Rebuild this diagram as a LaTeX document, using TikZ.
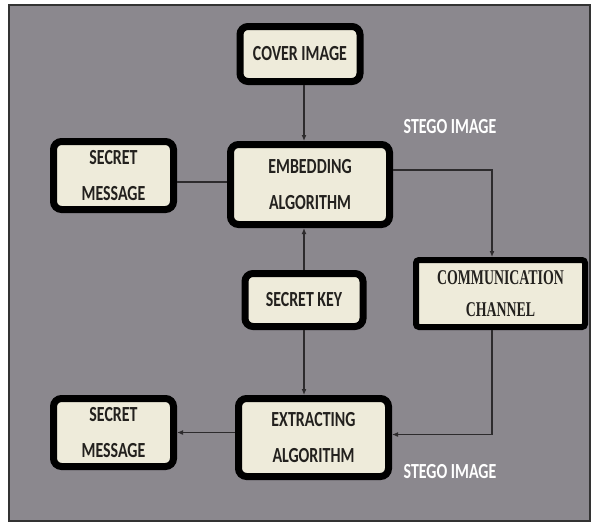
\documentclass[tikz,border=0pt]{standalone}
\usepackage{fontspec}
\usetikzlibrary{arrows.meta,calc}
\newfontfamily\boxfont[FakeStretch=0.74]{Carlito}
\newfontfamily\commfont[FakeStretch=0.66]{Liberation Serif}
\definecolor{bggray}{RGB}{139,136,142}
\definecolor{boxfill}{RGB}{238,235,218}
\definecolor{txtdark}{RGB}{35,33,30}
\definecolor{linedark}{RGB}{45,43,45}
\tikzset{
  blk/.style={draw=black, line width=7pt, rounded corners=8pt, fill=boxfill,
    inner sep=0pt, align=center, text=txtdark,
    font=\boxfont\bfseries\fontsize{21.5}{36}\selectfont},
  commbox/.style={draw=black, line width=6pt, rounded corners=3pt, fill=boxfill,
    inner sep=0pt, align=center, text=txtdark,
    font=\commfont\bfseries\fontsize{21}{32}\selectfont},
  lbl/.style={text=white, inner sep=0pt,
    font=\boxfont\bfseries\fontsize{21.5}{26}\selectfont},
  conn/.style={draw=linedark, line width=1.3pt, -{Latex[length=6pt,width=5pt]}},
  plain/.style={draw=linedark, line width=1.3pt}
}
\begin{document}
\begin{tikzpicture}[x=1pt,y=-1pt]
\useasboundingbox (0,0) rectangle (592,523);
\fill[white] (0,0) rectangle (592,523);
\draw[fill=bggray, draw=black!80, line width=2.5pt] (9,5) rectangle (590,521);

\node[blk, minimum width=120pt, minimum height=55pt] (cover) at (300,54) {COVER IMAGE};
\node[blk, minimum width=120pt, minimum height=68pt] (smsg1) at (113.5,175.5) {SECRET\\MESSAGE};
\node[blk, minimum width=159pt, minimum height=80pt] (embed) at (310,184.5) {EMBEDDING\\ALGORITHM};
\node[commbox, minimum width=169pt, minimum height=67pt] (comm) at (500.5,293.5) {COMMUNICATION\\CHANNEL};
\node[blk, minimum width=118pt, minimum height=53pt] (key) at (304,300) {SECRET KEY};
\node[blk, minimum width=150pt, minimum height=78pt] (extract) at (313.5,437.5) {EXTRACTING\\ALGORITHM};
\node[blk, minimum width=120pt, minimum height=68pt] (smsg2) at (113.5,432.5) {SECRET\\MESSAGE};

\node[lbl] (stego1) at (450,127) {STEGO IMAGE};
\node[lbl] (stego2) at (450,472) {STEGO IMAGE};

% connectors
\coordinate (cvx) at (cover.south -| key.north);
\draw[conn] (cvx) -- (cvx |- embed.north);
\draw[conn] (key.north) -- (key.north |- embed.south);
\draw[conn] (key.south) -- (key.south |- extract.north);
\coordinate (m1) at ([yshift=-6.5pt]smsg1.east);
\draw[plain] (m1) -- (m1 -| embed.west);
\coordinate (e1) at ([yshift=14.5pt]embed.east);
\coordinate (c1) at ([xshift=-8.5pt]comm.north);
\coordinate (c2) at ([xshift=-8.5pt]comm.south);
\draw[conn] (e1) -| (c1);
\coordinate (x1) at ([yshift=3pt]extract.east);
\draw[conn] (c2) |- (x1);
\draw[conn] (smsg2.east -| extract.west) -- (smsg2.east);
\end{tikzpicture}
\end{document}
